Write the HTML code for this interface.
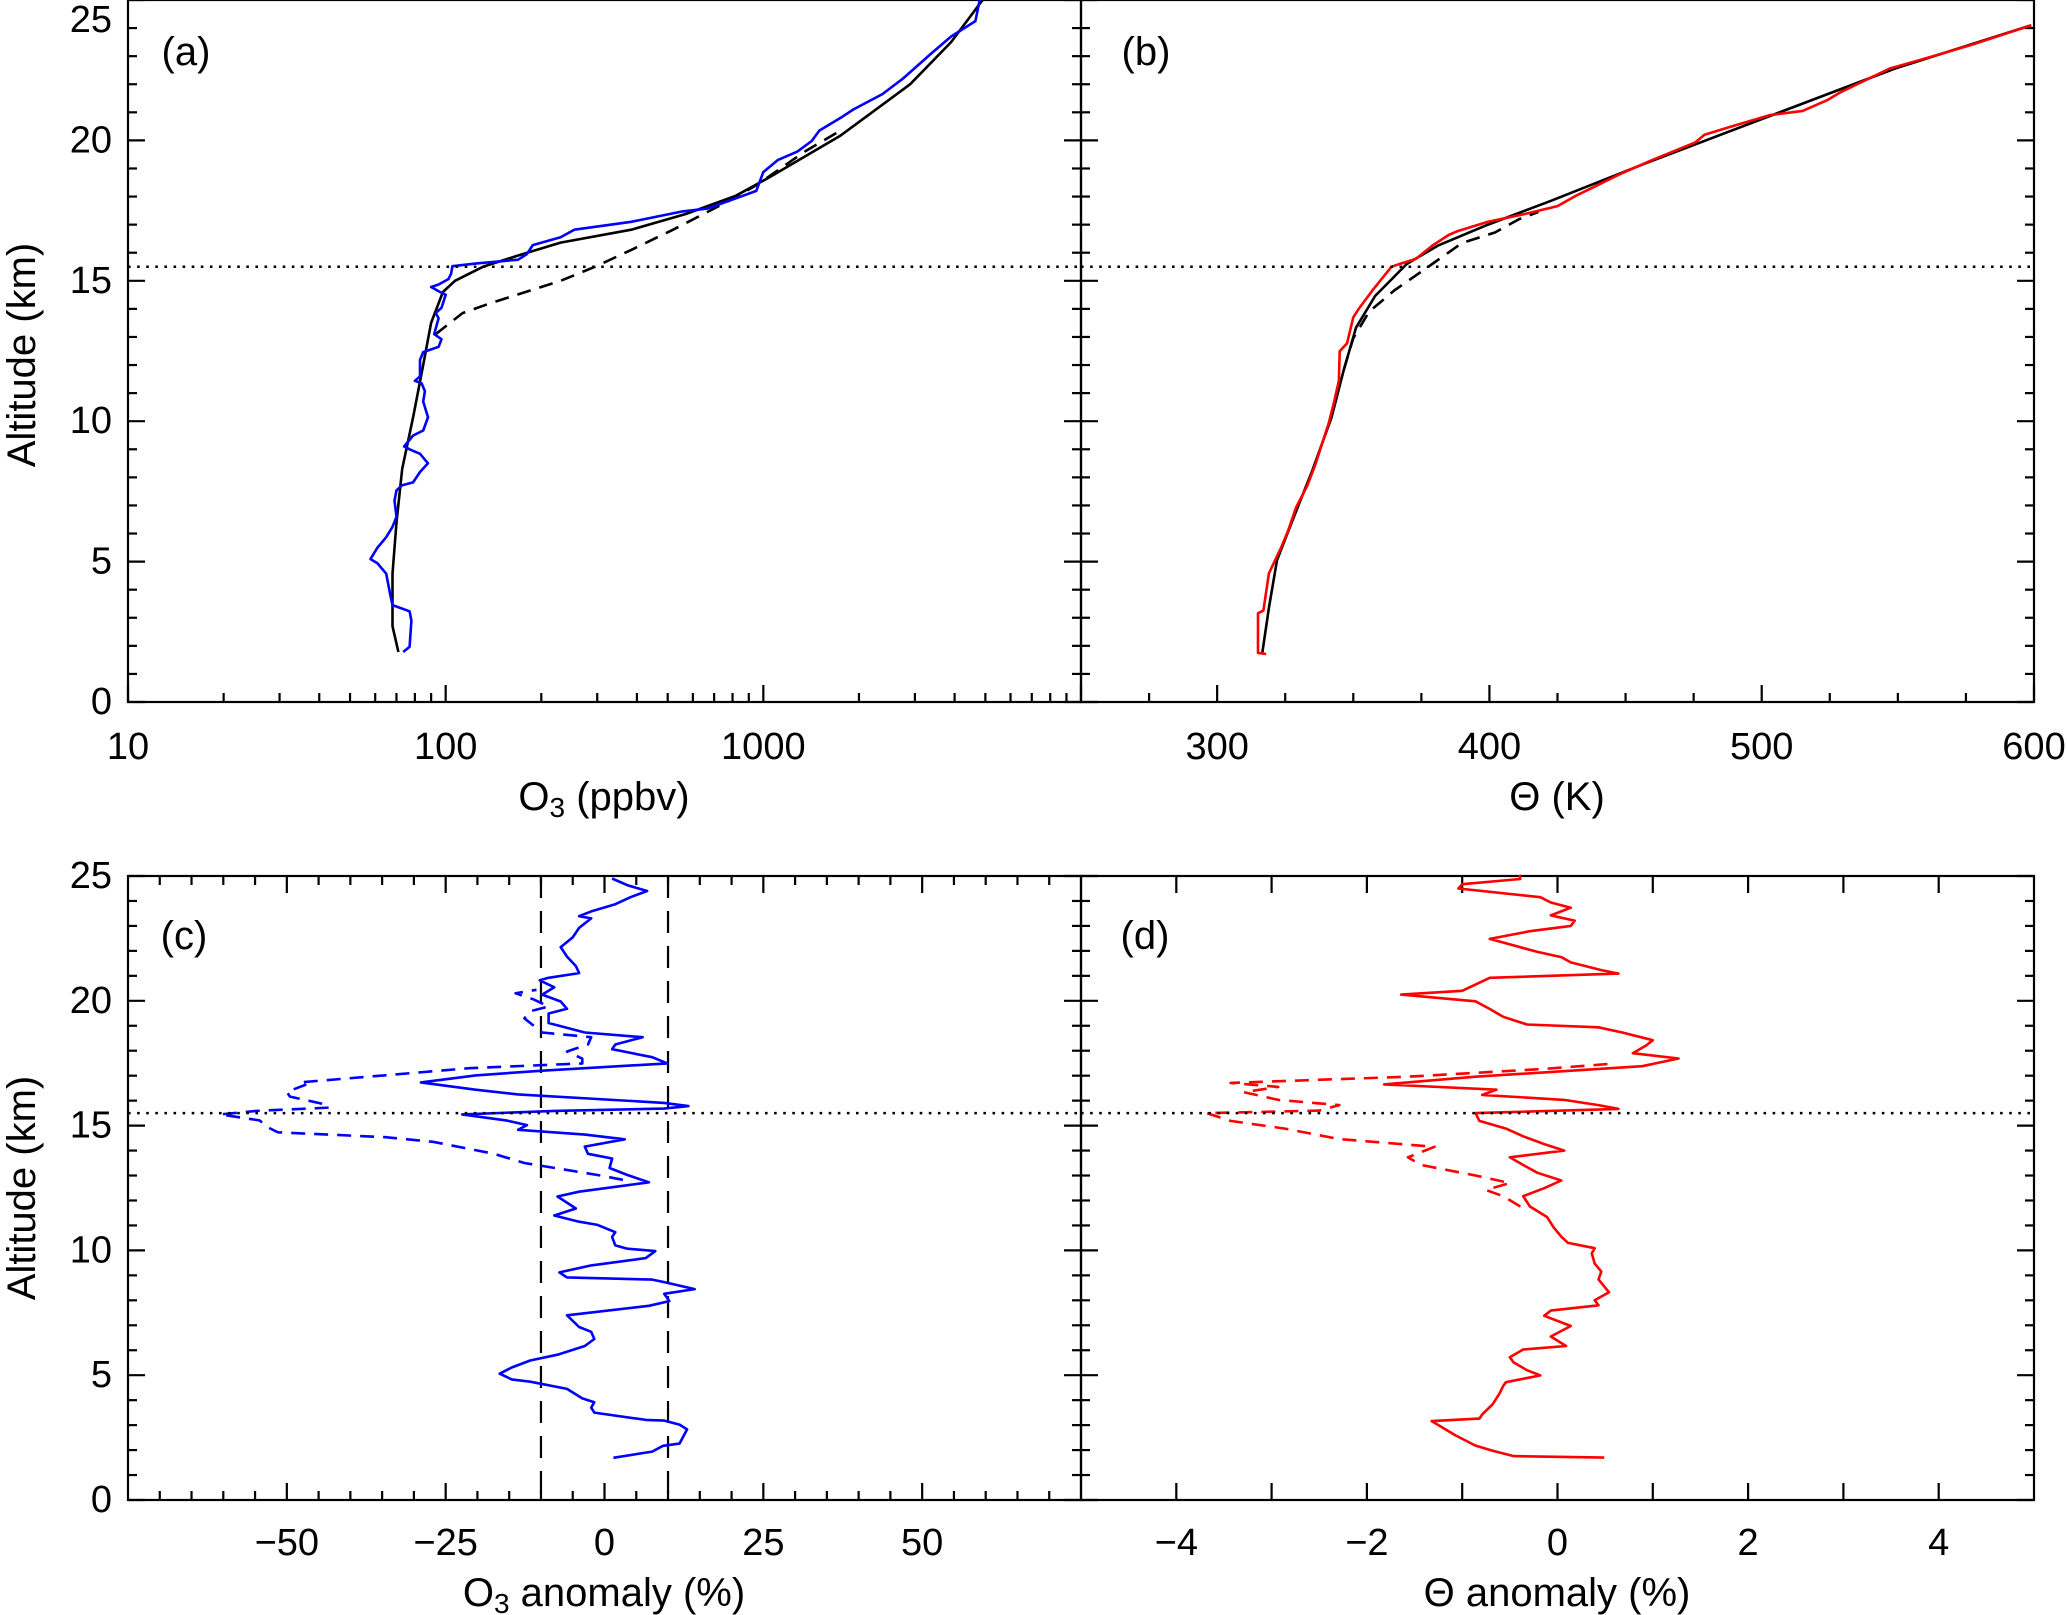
<!DOCTYPE html>
<html><head><meta charset="utf-8">
<style>
html,body{margin:0;padding:0;background:#fff;}
svg{display:block;font-family:"Liberation Sans","DejaVu Sans",sans-serif;}
</style></head>
<body>
<svg id="fig" width="2067" height="1615" viewBox="0 0 2067 1615" xmlns="http://www.w3.org/2000/svg"></svg>
<script>
// Panel (a): O3 (ppbv) vs altitude
const aObsKm=[1.78,1.97,2.9,3.23,3.45,3.8,4.57,4.94,5.09,5.5,5.87,6.24,6.6,7.17,7.54,7.72,7.82,8.19,8.5,8.84,9.0,9.1,9.49,9.67,10.14,10.7,11.07,11.35,11.44,11.6,12.18,12.46,12.65,12.92,13.1,13.67,13.85,14.04,14.5,14.6,14.78,14.87,15.06,15.25,15.52,15.62,15.75,15.95,16.27,16.55,16.82,17.1,17.47,17.57,17.85,18.2,18.87,19.3,19.6,19.98,20.35,20.8,21.1,21.65,22.2,23.1,23.7,24.25,25.0];
const aObsO3=[73.5,77,78,77,68,67,65,61,58,61,65,68,70,69,70,73,79,83,88,83,77,74,79,85,88,85,86,84,80,83,83,85,95,97,92,95,93,97,100,96,90,95,102,104,105,125,169,180,188,230,254,384,557,666,780,950,1000,1110,1280,1420,1500,1750,1920,2370,2750,3380,3900,4650,4800];
const aModKm=[1.78,2.7,4.57,6.4,8.3,10.14,12,13.5,14.2,14.6,15,15.5,15.9,16.36,16.82,17.38,18.03,18.7,20.17,22.0,23.5,25];
const aModO3=[71,68,68,70,73,79,85,90,95,98,107,131,169,230,384,570,820,1050,1750,2900,3900,4900];
const aDashKm=[13.1,13.85,14.2,15,15.5,16.1,16.82,17.85,18.4,19.6,20.35];
const aDashO3=[93,113,138,230,295,384,520,780,950,1350,1750];
// Panel (b): Theta (K)
const bObsKm=[1.71,1.75,3.16,3.26,4.58,5.5,6.08,6.93,7.68,8.44,9.19,9.94,10.7,11.45,12.49,12.77,13.7,14,14.65,15.5,15.6,15.78,16.25,16.63,16.76,17.1,17.38,17.66,18.04,18.8,19.27,19.92,20.2,20.5,20.9,21.05,21.43,21.7,22.56,22.94,23.4,24.1];
const bObsTh=[318,315,315,317,319,323.5,326,329,333,336,338.5,341,343,344.7,345,347.7,350,352,357,364,367,373,379,385,388,399.5,413,425,432,448,459,475.5,479,489,503,515,524,528.6,547,561,577,599];
const bModKm=[1.75,3.35,5.05,6.55,8.25,10.13,11.83,13.33,14.46,15.6,16.25,17,17.85,19.17,20.87,22.56,24.1];
const bModTh=[316.6,319,322,328,335,342,346.5,351,358,369.6,381,399.5,422.6,457,503,549,599];
const bDashKm=[11.83,12.96,13.9,14.65,15.6,16.35,16.72,17.2,17.45];
const bDashTh=[346.5,350,355.8,365,379,390,402,411,418];
// Panel (c): O3 anomaly (%)
const cSolKm=[1.69,1.94,2.17,2.26,2.83,3.02,3.18,3.21,3.5,3.7,3.92,4.07,4.45,4.74,4.83,5.06,5.31,5.59,5.82,6.17,6.45,6.74,6.93,7.4,7.78,7.97,8.26,8.45,8.73,8.83,8.92,9.12,9.4,9.69,9.97,10.07,10.2,10.54,10.73,11.02,11.15,11.4,11.68,12.16,12.35,12.73,13.02,13.3,13.68,13.87,14.16,14.45,14.64,14.83,15.02,15.21,15.45,15.59,15.68,15.78,15.91,16.25,16.44,16.73,17.01,17.2,17.49,17.74,18.06,18.25,18.54,18.73,19.11,19.49,19.68,19.97,20.25,20.54,20.82,20.92,21.11,21.39,21.77,22.15,22.54,22.92,23.3,23.39,23.58,23.87,24.15,24.4,24.63,24.9];
const cSolVal=[1.4,7.5,9.2,11.8,13,11.8,9.4,6.5,-1.6,-2.1,-1.6,-3.5,-5.9,-11.7,-14.6,-16.5,-14.6,-11.7,-7.4,-3.1,-1.6,-2.1,-4,-5.9,7,10.2,9.4,14.2,9.4,7.5,-5.9,-7.1,-2.1,6.5,8,3.6,1.7,1.2,1.7,-1.1,-4,-7.9,-4.5,-7.4,-4,7,3.6,0.8,1.2,-2.6,-3.1,3.2,-3.1,-13.6,-12.2,-15.5,-22.4,-7.9,9.4,13.2,9.4,-13.6,-20.3,-28.9,-20.3,-9.8,9.9,7.5,1.2,1.7,6,-3.1,-8.8,-8.8,-5.9,-6.9,-9.8,-7.9,-10.2,-8.8,-4,-4.5,-5.9,-6.9,-5,-4,-2.1,-4,-2.1,1.7,4.1,6.7,3.6,1.2];
const cDashKm=[12.83,13.02,13.5,13.87,14.35,14.54,14.73,14.92,15.21,15.45,15.59,15.72,15.87,16.16,16.35,16.63,16.73,17.01,17.3,17.49,17.68,17.97,18.25,18.54,18.73,19.3,19.58,19.77,20.06,20.3,20.44];
const cDashVal=[2.9,-1.1,-12.6,-17.4,-27,-34.7,-51.4,-52.9,-54.3,-60.5,-54.8,-43.3,-44.3,-49.5,-50,-47.1,-48,-34.7,-21.3,-3.5,-3.5,-5.9,-2.6,-2.1,-9.8,-12.6,-11.7,-8.8,-11.2,-14,-10.7];
// Panel (d): Theta anomaly (%)
const dSolKm=[1.7,1.76,1.97,2.18,2.59,2.91,3.16,3.26,3.43,3.84,4.26,4.57,4.72,4.99,5.2,5.51,5.72,6.03,6.17,6.55,6.97,7.38,7.59,7.8,8.0,8.32,8.84,9.15,9.47,9.88,10.09,10.3,10.55,10.92,11.34,11.76,12.17,12.49,12.8,13.11,13.42,13.73,14.0,14.26,14.57,14.88,15.19,15.5,15.67,15.82,16.03,16.23,16.44,16.65,16.96,17.38,17.69,17.9,18.21,18.42,18.73,18.94,19.05,19.36,19.67,19.98,20.25,20.4,20.92,21.09,21.23,21.54,21.75,21.96,22.48,22.79,23.0,23.21,23.42,23.73,23.94,24.15,24.5,24.67,24.88,25.05];
const dSolVal=[0.49,-0.46,-0.68,-0.86,-1.07,-1.21,-1.32,-0.82,-0.79,-0.68,-0.61,-0.57,-0.54,-0.18,-0.32,-0.46,-0.5,-0.36,0.09,-0.07,0.14,-0.14,-0.07,0.43,0.39,0.54,0.43,0.46,0.39,0.36,0.39,0.11,0.04,-0.04,-0.11,-0.29,-0.36,-0.14,0.04,-0.21,-0.36,-0.5,0.07,-0.14,-0.36,-0.54,-0.82,-0.86,0.64,0.43,0.07,-0.79,-0.64,-1.82,-0.86,0.89,1.27,0.79,0.93,1.0,0.68,0.43,-0.32,-0.57,-0.71,-0.86,-1.64,-1.0,-0.71,0.64,0.46,0.14,0.04,-0.21,-0.71,-0.29,0.14,0.18,-0.07,0.14,-0.07,-0.18,-1.04,-1.0,-0.39,-0.4];
const dDashKm=[11.76,12.17,12.42,12.7,13.0,13.42,13.73,14.15,14.46,14.88,15.19,15.5,15.6,15.82,16.03,16.34,16.55,16.71,16.96,17.27,17.48];
const dDashVal=[-0.39,-0.57,-0.75,-0.5,-0.86,-1.43,-1.57,-1.29,-2.29,-2.86,-3.43,-3.68,-2.5,-2.29,-2.93,-3.29,-2.93,-3.43,-1.57,-0.14,0.57];
const tropopauseKm=15.5;

const NS="http://www.w3.org/2000/svg";
const svg=document.getElementById('fig');
function mk(tag,attrs,parent){const e=document.createElementNS(NS,tag);for(const k in attrs)e.setAttribute(k,attrs[k]);(parent||svg).appendChild(e);return e;}
function txt(s,x,y,size,parent,anchor){const t=mk('text',{x:x,y:y,'font-size':size,'text-anchor':anchor||'middle','dominant-baseline':'central',fill:'#000'},parent);t.textContent=s;return t;}

function panel(name,L,R,T,B,xmin,xmax,logx){
  const g=mk('g',{});
  
  
  const fx=logx?(v=>L+(Math.log10(v)-Math.log10(xmin))/(Math.log10(xmax)-Math.log10(xmin))*(R-L)):(v=>L+(v-xmin)/(xmax-xmin)*(R-L));
  const fy=k=>B-k/25*(B-T);
  return {g,fx,fy,L,R,T,B};
}
function frame(p,xMaj,xMin,clipTopTicks){
  const ax=mk('g',{stroke:'#000','stroke-width':2.2,fill:'none'},p.g);
  
  
  mk('rect',{x:p.L,y:p.T,width:p.R-p.L,height:p.B-p.T},ax);
  for(let k=0;k<=25;k++){
    const len=(k%5===0)?17:9, y=p.fy(k);
    mk('line',{x1:p.L,y1:y,x2:p.L+len,y2:y},ax);
    mk('line',{x1:p.R,y1:y,x2:p.R-len,y2:y},ax);
  }
  xMaj.forEach(v=>{const x=p.fx(v);mk('line',{x1:x,y1:p.B,x2:x,y2:p.B-17},ax);if(!clipTopTicks)mk('line',{x1:x,y1:p.T,x2:x,y2:p.T+17},ax);});
  xMin.forEach(v=>{const x=p.fx(v);mk('line',{x1:x,y1:p.B,x2:x,y2:p.B-9},ax);if(!clipTopTicks)mk('line',{x1:x,y1:p.T,x2:x,y2:p.T+9},ax);});
}
function yLabels(p,showLabels){
  if(!showLabels)return;
  const g=mk('g',{},p.g);
  
  
  [0,5,10,15,20,25].forEach(k=>txt(String(k),112,Math.max(p.fy(k),20),38,g,'end'));
}
function xLabels(p,vals,labels,y){
  const g=mk('g',{},p.g);
  
  
  vals.forEach((v,i)=>{let x=p.fx(v);if(x>2045)x=2045;txt(labels[i],x,y,38,g,'middle');});
}
function line(p,xs,ks,color,dash,name,w){
  let d='';
  xs.forEach((v,i)=>{d+=(i?'L':'M')+p.fx(v).toFixed(1)+','+p.fy(ks[i]).toFixed(1);});
  const a={d:d,fill:'none',stroke:color,'stroke-width':w||2.6,'stroke-linejoin':'round'};
  if(dash)a['stroke-dasharray']=dash;
  const e=mk('path',a,p.g);
  
  
  return e;
}
function trop(p){
  const y=p.fy(tropopauseKm);
  const e=mk('line',{x1:p.L,y1:y,x2:p.R,y2:y,stroke:'#000','stroke-width':2.6,'stroke-dasharray':'2.6,6.5'},p.g);
  
  
}
function plabel(p,s,x,y){const t=txt(s,x,y,40,p.g,'middle');}

// Panel a
const pa=panel('panel-a',128,1081,0,702,10,10000,true);
const aMin=[];[10,100,1000].forEach(d=>{for(let m=2;m<=9;m++)aMin.push(d*m);});
frame(pa,[10,100,1000,10000],aMin,true);
yLabels(pa,true);
xLabels(pa,[10,100,1000],['10','100','1000'],747);
line(pa,aDashO3,aDashKm,'#000','14,9','o3-model-dashed');
line(pa,aModO3,aModKm,'#000',null,'o3-model-solid');
line(pa,aObsO3,aObsKm,'#0000ff',null,'o3-observed');
trop(pa);
plabel(pa,'(a)',186,52);
// Panel b
const pb=panel('panel-b',1081,2034,0,702,250,600,false);
const bMin=[];for(let v=275;v<600;v+=25)if(v%100)bMin.push(v);
frame(pb,[300,400,500,600],bMin,true);
xLabels(pb,[300,400,500,600],['300','400','500','600'],747);
line(pb,bDashTh,bDashKm,'#000','14,9','theta-model-dashed');
line(pb,bModTh,bModKm,'#000',null,'theta-model-solid');
line(pb,bObsTh,bObsKm,'#ff0000',null,'theta-observed');
trop(pb);
plabel(pb,'(b)',1146,52);
// Panel c
const pc=panel('panel-c',128,1081,876,1500,-75,75,false);
const cMin=[];for(let v=-70;v<=70;v+=5)if(v%25)cMin.push(v);
frame(pc,[-50,-25,0,25,50],cMin,false);
yLabels(pc,true);
xLabels(pc,[-50,-25,0,25,50],['\u221250','\u221225','0','25','50'],1543);
[-10,10].forEach(v=>{const e=mk('line',{x1:pc.fx(v),y1:pc.T,x2:pc.fx(v),y2:pc.B,stroke:'#000','stroke-width':2.2,'stroke-dasharray':'22,13'},pc.g);});
line(pc,cDashVal,cDashKm,'#0000ff','14,9','o3-anomaly-dashed');
line(pc,cSolVal,cSolKm,'#0000ff',null,'o3-anomaly-solid');
trop(pc);
plabel(pc,'(c)',184,936);
// Panel d
const pd=panel('panel-d',1081,2034,876,1500,-5,5,false);
const dMin=[];for(let v=-4.5;v<=4.5;v+=1)dMin.push(v);
frame(pd,[-4,-3,-2,-1,0,1,2,3,4],[],false);
xLabels(pd,[-4,-2,0,2,4],['\u22124','\u22122','0','2','4'],1543);
line(pd,dDashVal,dDashKm,'#ff0000','14,9','theta-anomaly-dashed');
line(pd,dSolVal,dSolKm,'#ff0000',null,'theta-anomaly-solid');
trop(pd);
plabel(pd,'(d)',1145,936);

// axis titles
function title(s,x,y,rot,name){const t=txt('',x,y,40,svg,'middle');t.innerHTML=s;if(rot)t.setAttribute('transform','rotate(-90 '+x+' '+y+')');return t;}
title('O<tspan font-size="28" dy="10">3</tspan><tspan dy="-10"> (ppbv)</tspan>',604,797,false,'x-axis-title-a');
title('\u0398 (K)',1557,797,false,'x-axis-title-b');
title('O<tspan font-size="28" dy="10">3</tspan><tspan dy="-10"> anomaly (%)</tspan>',604,1593,false,'x-axis-title-c');
title('\u0398 anomaly (%)',1557,1593,false,'x-axis-title-d');
title('Altitude (km)',22,355,true,'y-axis-title-top');
title('Altitude (km)',22,1188,true,'y-axis-title-bottom');
</script>
</body></html>
